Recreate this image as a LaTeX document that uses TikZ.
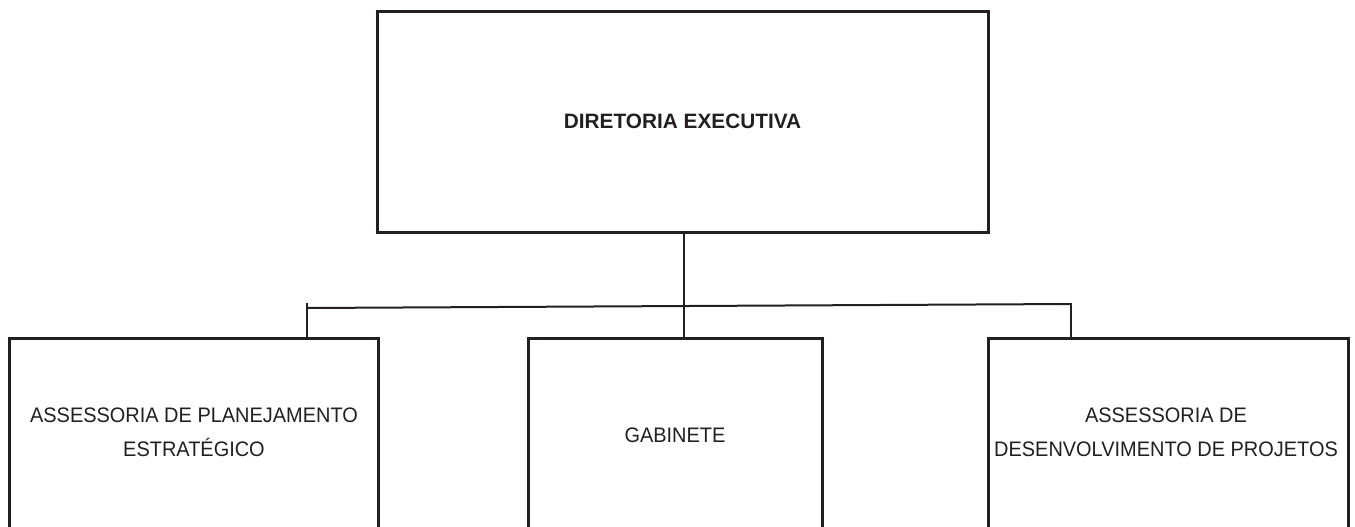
\documentclass[tikz,border=0pt]{standalone}
\usepackage{fontspec}
\newfontfamily\plainf[FakeStretch=0.95]{Liberation Sans}
\newfontfamily\boldf[FakeStretch=1.0]{Liberation Sans Bold}
\definecolor{ink}{RGB}{35,31,32}
\begin{document}
\begin{tikzpicture}[x=1pt,y=-1pt,
  box/.style={draw=ink, line width=3pt, outer sep=0pt, inner sep=0pt},
  conn/.style={draw=ink, line width=2pt},
  lbl/.style={text=ink, align=center, inner sep=0pt, font=\plainf\fontsize{21}{34}\selectfont},
  blbl/.style={text=ink, align=center, inner sep=0pt, font=\boldf\fontsize{20.8}{26}\selectfont}]
\useasboundingbox (0,0) rectangle (1355,527);
\clip (0,0) rectangle (1355,527);
% boxes
\node[box, anchor=north west, minimum width=611, minimum height=220] (de) at (377,12) {};
\node[box, anchor=north west, minimum width=369, minimum height=260] (ap) at (9,338) {};
\node[box, anchor=north west, minimum width=294, minimum height=260] (gb) at (528,338) {};
\node[box, anchor=north west, minimum width=360, minimum height=260] (ad) at (988,338) {};
% labels
\node[blbl] (tde) at (682.5,121) {DIRETORIA EXECUTIVA};
\node[lbl] (tap) at (194,432) {ASSESSORIA DE PLANEJAMENTO\\ESTRATÉGICO};
\node[lbl] (tgb) at (675,435) {GABINETE};
\node[lbl] (tad) at (1166,432) {ASSESSORIA DE\\DESENVOLVIMENTO DE PROJETOS};
% connectors
\coordinate (cv) at (684,306);
\coordinate (jl) at (307,308);
\coordinate (jr) at (1071,304);
\coordinate (tl) at (307,303);
\coordinate (tr) at (1071,303);
\draw[conn] (de.south -| cv) -- (gb.north -| cv);
\draw[conn] (jl) -- (jr);
\draw[conn] (tl) -- (tl |- ap.north);
\draw[conn] (tr) -- (tr |- ad.north);
\end{tikzpicture}
\end{document}
